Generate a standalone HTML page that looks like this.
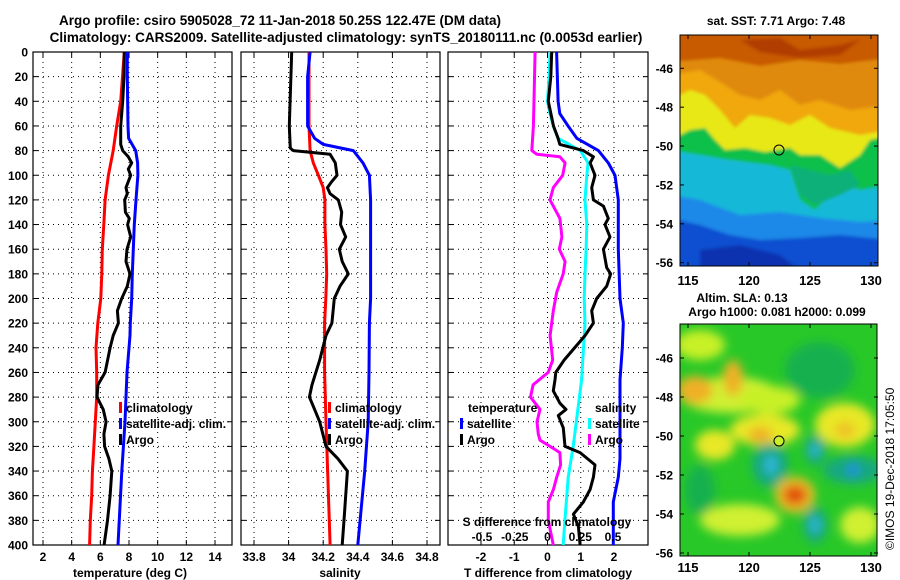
<!DOCTYPE html>
<html><head><meta charset="utf-8"><style>
body{margin:0;background:#fff;}
svg{display:block;font-family:"Liberation Sans",Arial,sans-serif;font-weight:bold;}
</style></head><body>
<svg id="chart" width="900" height="580" viewBox="0 0 900 580" xmlns="http://www.w3.org/2000/svg">
<defs>
<filter id="blur" x="-20%" y="-20%" width="140%" height="140%"><feGaussianBlur stdDeviation="5"/></filter>
<filter id="blur1"><feGaussianBlur stdDeviation="1.5"/></filter>
<clipPath id="m1c"><rect x="680" y="35" width="198" height="231"/></clipPath>
<clipPath id="m2c"><rect x="680" y="324" width="197" height="232"/></clipPath>
</defs>
<text x="280" y="25" font-size="13.5" text-anchor="middle">Argo profile: csiro 5905028_72 11-Jan-2018 50.25S 122.47E (DM data)</text>
<text x="346" y="42" font-size="13.5" text-anchor="middle">Climatology: CARS2009. Satellite-adjusted climatology: synTS_20180111.nc (0.0053d earlier)</text>
<g id="panels"></g>

<!-- Map 1: SST -->
<g>
<text x="776" y="25" font-size="12" text-anchor="middle">sat. SST: 7.71 Argo: 7.48</text>
<g clip-path="url(#m1c)">
<g filter="url(#blur1)">
<rect x="670" y="25" width="220" height="250" fill="#c85a00"/>
<path d="M670 62 L720 58 L760 66 L800 60 L840 64 L890 58 L890 280 L670 280Z" fill="#e08a08"/>
<path d="M670 75 L700 70 L720 82 L740 95 L760 100 L780 90 L800 105 L820 100 L850 110 L890 105 L890 280 L670 280Z" fill="#f0a810"/>
<path d="M670 100 L690 90 L705 95 L720 110 L735 128 L750 115 L770 118 L790 125 L810 115 L830 128 L860 135 L890 130 L890 280 L670 280Z" fill="#e8e818"/>
<path d="M670 140 L690 130 L705 128 L715 140 L725 150 L745 148 L765 152 L790 148 L800 155 L820 155 L840 168 L860 155 L870 140 L890 135 L890 280 L670 280Z" fill="#10c048"/>
<path d="M670 150 L700 155 L730 160 L770 165 L790 170 L800 200 L815 210 L830 195 L845 185 L860 190 L890 185 L890 280 L670 280Z" fill="#18b8d8"/>
<path d="M670 195 L700 200 L740 215 L780 212 L820 218 L860 222 L890 220 L890 280 L670 280Z" fill="#1e88e8"/>
<path d="M670 218 L700 225 L730 235 L760 240 L800 238 L840 235 L890 240 L890 280 L670 280Z" fill="#1050d0"/>
<path d="M700 250 L740 245 L780 255 L800 270 L700 275Z" fill="#0a30b0"/>
<path d="M790 165 L810 170 L830 175 L850 170 L860 185 L840 195 L815 205 L800 195Z" fill="#10b078"/>
<path d="M740 40 L780 38 L800 50 L840 45 L860 40 L840 55 L800 58 L760 52Z" fill="#a83000" opacity="0.7"/>
</g>
</g>
<rect x="680" y="35" width="198" height="231" fill="none" stroke="#000" stroke-width="1"/>
<circle cx="779" cy="150" r="5" fill="none" stroke="#000" stroke-width="1"/>
</g>

<!-- Map 2: SLA -->
<g>
<text x="742" y="302" font-size="12" text-anchor="middle">Altim. SLA: 0.13</text>
<text x="777" y="316" font-size="12" text-anchor="middle">Argo h1000: 0.081 h2000: 0.099</text>
<g clip-path="url(#m2c)">
<rect x="680" y="324" width="197" height="232" fill="#28c828"/>
<g filter="url(#blur)">
<ellipse cx="700" cy="345" rx="25" ry="15" fill="#c8f028"/>
<ellipse cx="730" cy="395" rx="50" ry="18" fill="#d0f030"/>
<ellipse cx="695" cy="390" rx="18" ry="14" fill="#f0b028"/>
<ellipse cx="733" cy="378" rx="10" ry="18" fill="#f0b028"/>
<ellipse cx="770" cy="400" rx="30" ry="14" fill="#c8f028"/>
<ellipse cx="765" cy="430" rx="35" ry="16" fill="#e8e828"/>
<ellipse cx="760" cy="435" rx="12" ry="8" fill="#f0b028"/>
<ellipse cx="715" cy="445" rx="20" ry="15" fill="#e8e828"/>
<ellipse cx="820" cy="370" rx="35" ry="28" fill="#18b050"/>
<ellipse cx="845" cy="425" rx="30" ry="22" fill="#e8e828"/>
<ellipse cx="845" cy="430" rx="10" ry="8" fill="#f0c028"/>
<ellipse cx="770" cy="465" rx="18" ry="22" fill="#18a880"/>
<ellipse cx="771" cy="465" rx="6" ry="10" fill="#30b8e0"/>
<ellipse cx="815" cy="450" rx="10" ry="15" fill="#18a880"/>
<ellipse cx="815" cy="450" rx="5" ry="6" fill="#30b8e0"/>
<ellipse cx="853" cy="470" rx="30" ry="14" fill="#18a880"/>
<ellipse cx="853" cy="470" rx="6" ry="7" fill="#2090e0"/>
<ellipse cx="795" cy="495" rx="20" ry="18" fill="#f0c028"/>
<ellipse cx="795" cy="495" rx="12" ry="10" fill="#e05010"/>
<ellipse cx="815" cy="525" rx="12" ry="18" fill="#18a880"/>
<ellipse cx="815" cy="525" rx="5" ry="8" fill="#30b8e0"/>
<ellipse cx="740" cy="520" rx="40" ry="16" fill="#d0f030"/>
<ellipse cx="860" cy="525" rx="20" ry="18" fill="#d0f030"/>
<ellipse cx="700" cy="490" rx="15" ry="25" fill="#18b050"/>
</g>
</g>
<rect x="680" y="324" width="197" height="232" fill="none" stroke="#000" stroke-width="1"/>
<circle cx="779" cy="441" r="5" fill="#c8f028" stroke="#000" stroke-width="1"/>
</g>
<text x="0" y="0" font-size="12" font-weight="normal" transform="translate(894,550) rotate(-90)">©IMOS 19-Dec-2018 17:05:50</text>
<g id="maplabels"></g>
</svg>
<script>
// ---- data ----
const tClimDepth = [0,40,60,80,100,120,140,160,180,200,220,240,260,280,300,320,340,360,380,400];
const tClimVal   = [7.67,7.42,7.14,6.9,6.56,6.33,6.24,6.14,6.1,6.03,5.82,5.7,5.75,5.75,5.65,5.55,5.45,5.4,5.3,5.25];
const tSatDepth = [0,20,60,70,80,90,100,120,140,160,180,200,220,230,260,300,340,400];
const tSatVal   = [7.88,7.88,7.93,7.97,8.47,8.6,8.62,8.49,8.37,8.3,8.23,8.19,8.09,8.07,7.86,7.72,7.5,7.23];
const tArgoDepth = [0,20,40,60,75,80,85,90,95,100,110,115,120,130,135,140,150,160,170,180,190,200,210,220,230,240,260,270,280,290,300,310,320,330,340,360,380,400];
const tArgoVal   = [7.67,7.65,7.56,7.42,7.42,7.56,7.95,8.19,7.95,8.12,7.79,7.88,7.7,7.75,8.02,7.9,8.12,7.86,7.79,8.07,7.88,7.49,7.19,7.26,6.9,6.68,6.33,5.84,5.77,6.2,6.4,6.25,6.3,6.6,6.8,6.68,6.5,6.26];

const sClimDepth = [0,60,80,90,100,110,120,140,160,180,200,220,260,300,400];
const sClimVal   = [34.118,34.118,34.124,34.143,34.172,34.2,34.21,34.21,34.216,34.22,34.215,34.208,34.208,34.216,34.24];
const sSatDepth = [0,20,60,70,75,80,90,100,120,200,220,260,300,340,400];
const sSatVal   = [34.124,34.11,34.11,34.15,34.2,34.374,34.43,34.467,34.474,34.474,34.467,34.465,34.46,34.44,34.40];
const sArgoDepth = [0,60,78,80,83,90,100,105,110,115,120,130,140,150,160,170,180,190,200,220,230,250,270,280,290,300,320,330,340,360,380,400];
const sArgoVal   = [34.018,34.004,34.01,34.027,34.24,34.27,34.28,34.25,34.224,34.24,34.287,34.307,34.3,34.33,34.293,34.31,34.345,34.297,34.264,34.25,34.216,34.18,34.135,34.12,34.15,34.18,34.216,34.285,34.34,34.33,34.32,34.31];

const dsArgoDepth = [0,60,80,83,85,90,100,110,120,135,150,160,170,180,195,210,220,230,250,260,270,280,290,300,310,315,320,325,335,345,355,365,380,400];
const dsArgoVal   = [-0.095,-0.108,-0.12,-0.082,0.095,0.134,0.116,0.044,0.019,0.095,0.11,0.09,0.134,0.12,0.07,0.044,0.032,0.02,0.04,0.005,-0.11,-0.13,-0.057,-0.08,-0.07,-0.057,0.02,0.095,0.1,0.07,0.045,0.006,0.006,0.044];
const dsSatDepth = [0,20,40,50,60,70,80,90,100,120,140,160,180,200,220,266,300,320,345,380,400];
const dsSatVal   = [0.019,0.012,0,0.019,0.044,0.08,0.25,0.31,0.3,0.286,0.3,0.295,0.286,0.28,0.286,0.26,0.22,0.196,0.158,0.133,0.12];
const dtArgoDepth = [0,20,40,60,70,75,80,85,90,100,110,120,125,135,140,150,160,175,180,190,200,210,220,230,250,260,266,275,285,290,295,305,320,325,335,345,355,365,375,385,400];
const dtArgoVal   = [0.125,0.1,0.025,0.18,0.32,0.37,1.08,1.38,1.28,1.43,1.33,1.38,1.68,1.83,1.73,1.88,1.68,1.78,1.9,1.78,1.48,1.33,1.38,1.13,0.5,0.25,0.225,0.175,0.375,0.555,0.325,0.475,0.525,0.98,1.43,1.38,1.28,1.08,0.78,0.93,0.98];
const dtSatDepth = [0,40,50,60,70,80,90,100,120,160,200,220,240,266,300,330,345,365,400];
const dtSatVal   = [0.275,0.32,0.37,0.62,0.88,1.53,1.83,2.03,2.13,2.13,2.18,2.28,2.25,2.18,2.18,2.18,2.13,1.98,1.98];

const depthTicks = [0,20,40,60,80,100,120,140,160,180,200,220,240,260,280,300,320,340,360,380,400];
const tTicks = [2,4,6,8,10,12,14];
const sTicks = [33.8,34,34.2,34.4,34.6,34.8];
const sTickLabels = ["33.8","34","34.2","34.4","34.6","34.8"];
const dtTicks = [-2,-1,0,1,2];
const dsTicks = [-0.5,-0.25,0,0.25,0.5];
const dsTickLabels = ["-0.5","-0.25","0","0.25","0.5"];
const lonTicks = [115,120,125,130];
const latTicks = [-46,-48,-50,-52,-54,-56];

// ---- scales ----
const Y0=52, Y1=545;
const yD = d => Y0 + d*(Y1-Y0)/400;
const xT = t => 43 + (t-2)*14.333;
const xS = s => 254 + (s-33.8)*173;
const xDT = t => 547.5 + t*33.25;
const xDS = s => 547.5 + s*131;
const xLon = l => 688 + (l-115)*12.2;
const yLat1 = l => 68.3 + (-46-l)*19.44;
const yLat2 = l => 358 + (-46-l)*19.5;

const NS='http://www.w3.org/2000/svg';
const root=document.getElementById('panels');
function mk(tag,attrs,parent){const e=document.createElementNS(NS,tag);for(const k in attrs)e.setAttribute(k,attrs[k]);(parent||root).appendChild(e);return e;}

const panels=[{x0:33,x1:232,ticks:tTicks,labels:tTicks.map(String),fx:xT,title:'temperature (deg C)',tx:130,name:'temperature'},
{x0:241,x1:440,ticks:sTicks,labels:sTickLabels,fx:xS,title:'salinity',tx:340,name:'salinity'},
{x0:448,x1:648,ticks:dtTicks,labels:dtTicks.map(String),fx:xDT,title:'T difference from climatology',tx:548,name:'difference'}];

panels.forEach(p=>{
  const g=mk('g',{});
  
  
  depthTicks.forEach(d=>{
    const y=yD(d);
    if(d>0&&d<400){const l=mk('line',{x1:p.x0,x2:p.x1,y1:y,y2:y,stroke:'#000','stroke-width':1,'stroke-dasharray':'1,4'},g);
    
    }
    mk('line',{x1:p.x0,x2:p.x0+5,y1:y,y2:y,stroke:'#000'},g);
    mk('line',{x1:p.x1,x2:p.x1-5,y1:y,y2:y,stroke:'#000'},g);
  });
  p.ticks.forEach((t,i)=>{
    const x=p.fx(t);
    const l=mk('line',{x1:x,x2:x,y1:Y0,y2:Y1,stroke:'#000','stroke-width':1,'stroke-dasharray':'1,4'},g);
    
    
    mk('line',{x1:x,x2:x,y1:Y0,y2:Y0+5,stroke:'#000'},g);
    mk('line',{x1:x,x2:x,y1:Y1,y2:Y1-5,stroke:'#000'},g);
    const tx=mk('text',{x:x,y:561,'font-size':12,'text-anchor':'middle'},g);
    tx.textContent=p.labels[i];
    
    
  });
  const fr=mk('rect',{x:p.x0,y:Y0,width:p.x1-p.x0,height:Y1-Y0,fill:'none',stroke:'#000','stroke-width':1.2},g);
  
  
  const tt=mk('text',{x:p.tx,y:577,'font-size':12,'text-anchor':'middle'},g);
  tt.textContent=p.title;
  
  
});
depthTicks.forEach(d=>{
  const t=mk('text',{x:28,y:yD(d)+4.5,'font-size':12,'text-anchor':'end'});
  t.textContent=d;
  
  
});

function line(depths,vals,fx,color,name){
  const pts=depths.map((d,i)=>fx(vals[i]).toFixed(1)+','+yD(d).toFixed(1)).join(' ');
  const pl=mk('polyline',{points:pts,fill:'none',stroke:color,'stroke-width':3,'stroke-linejoin':'round'});
  
  
}
line(tClimDepth,tClimVal,xT,'#ff0000','temperature-climatology-line');
line(tSatDepth,tSatVal,xT,'#0000ff','temperature-satellite-line');
line(tArgoDepth,tArgoVal,xT,'#000000','temperature-argo-line');
line(sClimDepth,sClimVal,xS,'#ff0000','salinity-climatology-line');
line(sSatDepth,sSatVal,xS,'#0000ff','salinity-satellite-line');
line(sArgoDepth,sArgoVal,xS,'#000000','salinity-argo-line');
line(dsArgoDepth,dsArgoVal,xDS,'#ff00ff','s-diff-argo-line');
line(dsSatDepth,dsSatVal,xDS,'#00ffff','s-diff-satellite-line');
line(dtArgoDepth,dtArgoVal,xDT,'#000000','t-diff-argo-line');
line(dtSatDepth,dtSatVal,xDT,'#0000ff','t-diff-satellite-line');

// S-diff inner axis labels
const sdt=mk('text',{x:547,y:526,'font-size':12,'text-anchor':'middle'});
sdt.textContent='S difference from climatology';


dsTicks.forEach((s,i)=>{
  const t=mk('text',{x:xDS(s),y:541,'font-size':12,'text-anchor':'middle'});
  t.textContent=dsTickLabels[i];
  
  
});

// legends
function leg(x,y,color,label,name){
  if(color){const r=mk('rect',{x:x,y:y-10,width:3,height:11,fill:color});
  
  }
  const t=mk('text',{x:x+(color?7:0),y:y,'font-size':12});
  t.textContent=label;
  
  
}
leg(119,412,'#ff0000','climatology','legend-climatology');
leg(119,428,'#0000ff','satellite-adj. clim.','legend-satellite-adj');
leg(119,444,'#000000','Argo','legend-argo');
leg(328,412,'#ff0000','climatology','legend-climatology-2');
leg(328,428,'#0000ff','satellite-adj. clim.','legend-satellite-adj-2');
leg(328,444,'#000000','Argo','legend-argo-2');
leg(468,412,null,'temperature','legend-temperature-heading');
leg(460,428,'#0000ff','satellite','legend-t-satellite');
leg(460,444,'#000000','Argo','legend-t-argo');
leg(595,412,null,'salinity','legend-salinity-heading');
leg(588,428,'#00ffff','satellite','legend-s-satellite');
leg(588,444,'#ff00ff','Argo','legend-s-argo');

// map axes
const ml=document.getElementById('maplabels');
[[yLat1,285,35,266],[yLat2,572,324,556]].forEach(([fy,ly,top,bot])=>{
  latTicks.forEach(l=>{
    const y=fy(l);
    mk('line',{x1:680,x2:684,y1:y,y2:y,stroke:'#000'},ml);
    mk('line',{x1:878,x2:874,y1:y,y2:y,stroke:'#000'},ml);
    const t=mk('text',{x:673,y:y+4.5,'font-size':12,'text-anchor':'end'},ml);
    t.textContent=l;
    
    
  });
  lonTicks.forEach(l=>{
    const x=xLon(l);
    mk('line',{x1:x,x2:x,y1:top,y2:top+4,stroke:'#000'},ml);
    mk('line',{x1:x,x2:x,y1:bot,y2:bot-4,stroke:'#000'},ml);
    const t=mk('text',{x:x,y:ly,'font-size':13,'text-anchor':'middle'},ml);
    t.textContent=l;
    
    
  });
});
</script>
</body></html>
